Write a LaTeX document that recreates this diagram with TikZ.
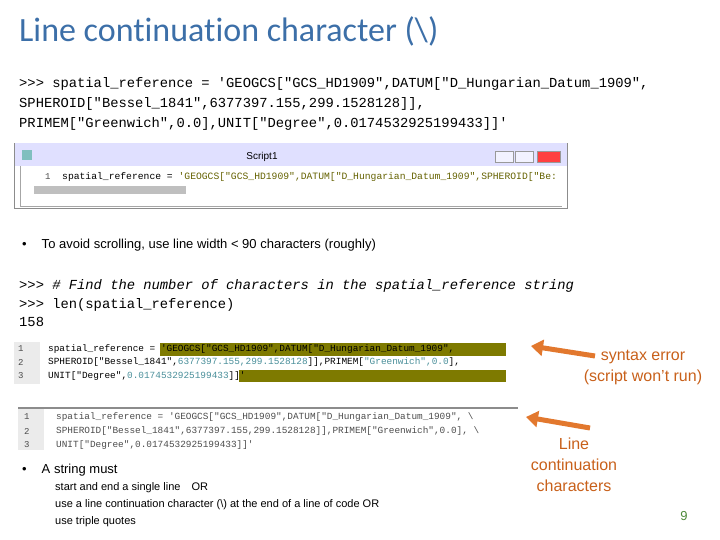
\documentclass[tikz,border=0pt]{standalone}
\usepackage{fontspec}
\setmainfont{Liberation Sans}
\newfontfamily\calib[Ligatures=NoCommon]{Carlito}
\setmonofont{Liberation Mono}
\usetikzlibrary{arrows.meta}
\definecolor{ttl}{HTML}{3C6FA8}
\definecolor{org}{HTML}{E2782E}
\definecolor{orgt}{HTML}{C8601A}
\definecolor{olv}{HTML}{7E7A00}
\definecolor{strc}{HTML}{4A8F9A}
\definecolor{pg}{HTML}{4E8A3A}
\begin{document}
\begin{tikzpicture}[x=1pt,y=-1pt,
  code/.style={anchor=west,inner sep=0,font=\ttfamily\fontsize{13.8}{15}\selectfont},
  sc/.style={anchor=west,inner sep=0,font=\ttfamily\fontsize{9.4}{10}\selectfont},
  num/.style={anchor=west,inner sep=0,font=\ttfamily\fontsize{9}{10}\selectfont,text=black!70},
  body/.style={anchor=west,inner sep=0,font=\fontsize{13}{15}\selectfont},
  small/.style={anchor=west,inner sep=0,font=\fontsize{11}{13}\selectfont},
  note/.style={align=center,inner sep=0,text=orgt,font=\fontsize{16}{21}\selectfont},
  arr/.style={draw=org,line width=5pt,-{Triangle[length=12pt,width=16pt]}}]
\useasboundingbox (0,0) rectangle (720,540);
\node[anchor=west,inner sep=0,text=ttl,font=\calib\fontsize{34}{38}\selectfont] (title) at (19,31) {Line continuation character (\textbackslash)};
\node[code] (c1) at (19,84) {>>> spatial\_reference = 'GEOGCS["GCS\_HD1909",DATUM["D\_Hungarian\_Datum\_1909",};
\node[code] (c2) at (19,104) {SPHEROID["Bessel\_1841",6377397.155,299.1528128]],};
\node[code] (c3) at (19,124) {PRIMEM["Greenwich",0.0],UNIT["Degree",0.0174532925199433]]'};
% window screenshot
\draw[black!45,fill=white] (14,143) rectangle (567,208);
\fill[blue!12] (14.5,143.5) rectangle (566.5,166);
\node[font=\fontsize{10}{12}\selectfont,inner sep=0] (wt) at (262,157) {Script1};
\fill[teal!50] (22,150) rectangle (32,160);
\draw[black!40,fill=blue!5] (495,151) rectangle (513,162) (515,151) rectangle (533,162);
\draw[black!40,fill=red!75] (537,151) rectangle (560,162);
\draw[black!35] (20,166) -- (20,206) (20,206) -- (562,206);
\node[num] (w1) at (45,177) {1};
\node[sc,font=\ttfamily\fontsize{9.7}{10}\selectfont] (wc) at (62,177) {spatial\_reference = \textcolor{olv!80!black}{'GEOGCS["GCS\_HD1909",DATUM["D\_Hungarian\_Datum\_1909",SPHEROID["Be:}};
\fill[black!25] (34,186) rectangle (186,194);
\node[body] (b1) at (22,245) {•\hspace{15pt}To avoid scrolling, use line width < 90 characters (roughly)};
\node[code] (d1) at (19,286) {>>> \textit{\# Find the number of characters in the spatial\_reference string}};
\node[code] (d2) at (19,305) {>>> len(spatial\_reference)};
\node[code] (d3) at (19,322) {158};
% screenshot 2
\fill[black!8] (14,342) rectangle (40,384);
\fill[olv] (160,343) rectangle (506,356);
\fill[olv] (239,370) rectangle (506,382);
\node[num] (s1) at (18,349) {1};
\node[num] (s2) at (18,362) {2};
\node[num] (s3) at (18,376) {3};
\node[sc] (l1) at (48,349) {spatial\_reference = 'GEOGCS["GCS\_HD1909",DATUM["D\_Hungarian\_Datum\_1909",};
\node[sc] (l2) at (48,362) {SPHEROID["Bessel\_1841",\textcolor{strc}{6377397.155,299.1528128}]],PRIMEM[\textcolor{strc}{"Greenwich",0.0}],};
\node[sc] (l3) at (48,376) {UNIT["Degree",\textcolor{strc}{0.0174532925199433}]]'};
% screenshot 3
\fill[black!8] (18,408) rectangle (44,450);
\draw[black!45,line width=1.2pt] (18,408) -- (518,408);
\node[num] (t1) at (24,417) {1};
\node[num] (t2) at (24,431) {2};
\node[num] (t3) at (24,445) {3};
\node[sc,text=black!70] (m1) at (56,417) {spatial\_reference = 'GEOGCS["GCS\_HD1909",DATUM["D\_Hungarian\_Datum\_1909", \textbackslash};
\node[sc,text=black!70] (m2) at (56,431) {SPHEROID["Bessel\_1841",6377397.155,299.1528128]],PRIMEM["Greenwich",0.0], \textbackslash};
\node[sc,text=black!70] (m3) at (56,445) {UNIT["Degree",0.0174532925199433]]'};
% notes and arrows
\node[note] (n1) at (643,367) {syntax error\\(script won't run)};
\node[note] (n2) at (574,465) {Line\\continuation\\characters};
\coordinate (a1s) at (595,356);
\coordinate (a1e) at (531,346);
\coordinate (a2s) at (590,428);
\coordinate (a2e) at (526,417);
\draw[arr] (a1s) -- (a1e);
\draw[arr] (a2s) -- (a2e);
\node[body] (b2) at (22,470) {•\hspace{15pt}A string must};
\node[small] (u1) at (55,488) {start and end a single line\hspace{8pt} OR};
\node[small] (u2) at (55,505) {use a line continuation character (\textbackslash) at the end of a line of code OR};
\node[small] (u3) at (55,522) {use triple quotes};
\node[inner sep=0,text=pg,font=\fontsize{13}{15}\selectfont] (pn) at (684,516) {9};
\end{tikzpicture}
\end{document}
